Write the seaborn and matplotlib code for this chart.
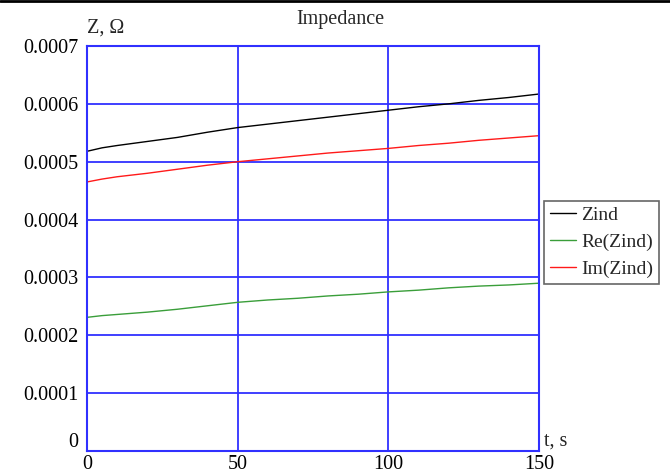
import matplotlib
matplotlib.use("Agg")
import matplotlib.pyplot as plt
from matplotlib.lines import Line2D
from matplotlib.transforms import ScaledTranslation
import seaborn as sns
import pandas as pd

# time samples, s
t = [0, 5, 10, 20, 30, 40, 50, 60, 70, 80, 90, 100, 110, 120, 130, 140, 150]
# impedance magnitude and components, Ohm
z_abs = [0.000518, 0.000524, 0.000528, 0.000535, 0.000542, 0.000551, 0.000559, 0.000565,
         0.000571, 0.000577, 0.000583, 0.000589, 0.000595, 0.000600, 0.000606, 0.000611, 0.000617]
z_re = [0.000231, 0.000234, 0.000236, 0.000240, 0.000245, 0.000251, 0.000257, 0.000261,
        0.000264, 0.000268, 0.000271, 0.000275, 0.000278, 0.000282, 0.000285, 0.000287, 0.000290]
z_im = [0.000465, 0.000470, 0.000474, 0.000480, 0.000487, 0.000494, 0.000500, 0.000505,
        0.000510, 0.000515, 0.000519, 0.000523, 0.000528, 0.000532, 0.000537, 0.000541, 0.000545]
series_names = ["Zind", "Re(Zind)", "Im(Zind)"]
x_ticks = [0, 50, 100, 150]
y_ticks = [0, 0.0001, 0.0002, 0.0003, 0.0004, 0.0005, 0.0006, 0.0007]
y_tick_labels = ["0", "0.0001", "0.0002", "0.0003", "0.0004", "0.0005", "0.0006", "0.0007"]

df = pd.concat([
    pd.DataFrame({"t": t, "Z": z_abs, "series": series_names[0]}),
    pd.DataFrame({"t": t, "Z": z_re, "series": series_names[1]}),
    pd.DataFrame({"t": t, "Z": z_im, "series": series_names[2]}),
])

sns.set_style("white")
plt.rcParams["font.family"] = ["Liberation Serif", "DejaVu Serif"]

fig = plt.figure(figsize=(6.7, 4.76), dpi=100)
ax = fig.add_axes([87 / 670, 25 / 476, 452 / 670, 405 / 476])

palette = {"Zind": "#000000", "Re(Zind)": "#3a9e3a", "Im(Zind)": "#ff1a1a"}
sns.lineplot(data=df, x="t", y="Z", hue="series", palette=palette,
             linewidth=1.0, ax=ax, legend=False)

ax.set_xlim(0, 150)
ax.set_ylim(0, 0.0007)
ax.set_xticks(x_ticks)
ax.set_xticklabels([str(v) for v in x_ticks])
ax.set_yticks(y_ticks)
ax.set_yticklabels(y_tick_labels)
ax.tick_params(axis="both", length=0, labelsize=14.5, colors="black")
ax.tick_params(axis="x", pad=3)
ax.tick_params(axis="y", pad=6)
ax.set_xlabel("")
ax.set_ylabel("")

# lift the y-axis zero label so it clears the x-axis zero
zero_lbl = ax.get_yticklabels()[0]
zero_lbl.set_transform(zero_lbl.get_transform() + ScaledTranslation(0, 11 / 100, fig.dpi_scale_trans))

ax.grid(True, color="#3030ff", linewidth=1.3)
ax.set_axisbelow(True)
for sp in ax.spines.values():
    sp.set_color("#3030ff")
    sp.set_linewidth(1.5)

ax.text(0.56, 1.065, "Impedance", transform=ax.transAxes, fontsize=14.5, ha="center", va="center")
ax.text(0.0, 1.02, "Z, Ω", transform=ax.transAxes, fontsize=14.5, ha="left", va="bottom")
ax.text(1.012, 0.002, "t, s", transform=ax.transAxes, fontsize=14.5, ha="left", va="bottom")

handles = [Line2D([], [], color=palette[n], linewidth=1.0) for n in series_names]
leg = ax.legend(handles, series_names, loc="upper left", bbox_to_anchor=(1.011, 0.618),
                fontsize=14, frameon=True, fancybox=False, borderpad=0.3,
                handlelength=1.35, handletextpad=0.25, labelspacing=0.48, borderaxespad=0)
leg.get_frame().set_edgecolor("#404040")
leg.get_frame().set_linewidth(1.2)

fig.add_artist(Line2D([0, 1], [0.998, 0.998], transform=fig.transFigure,
                      color="black", linewidth=2))

fig.savefig("out.png", dpi=100)
